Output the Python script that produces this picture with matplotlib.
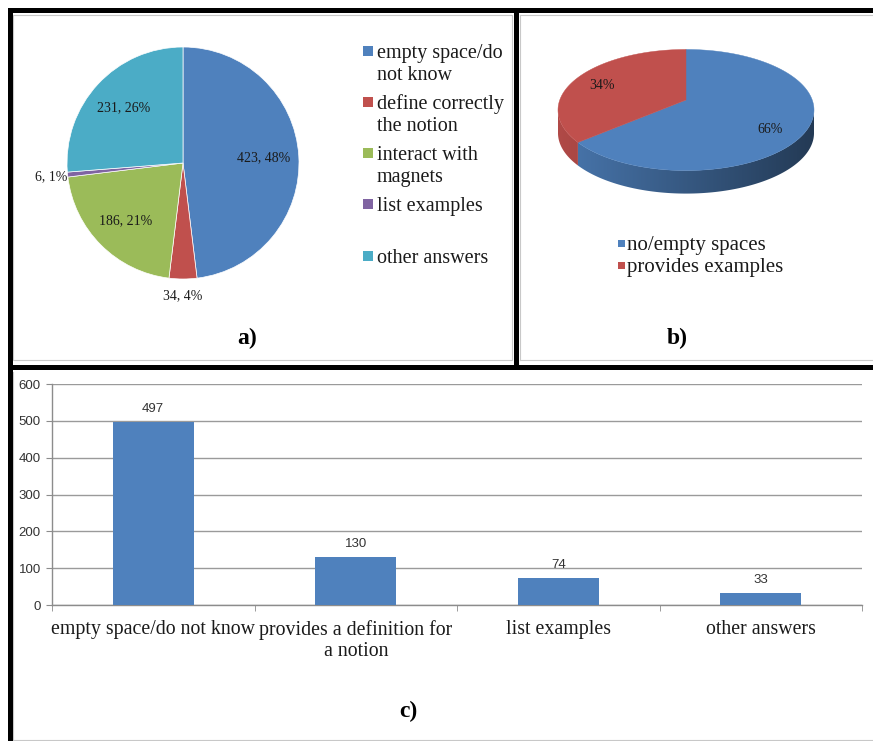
import numpy as np
import matplotlib
matplotlib.use("Agg")
import matplotlib.pyplot as plt
from matplotlib.patches import Polygon, Rectangle
from matplotlib.lines import Line2D
from matplotlib.colors import to_rgb

# ---------------- data ----------------
a_labels = ["empty space/do\nnot know", "define correctly\nthe notion",
            "interact with\nmagnets", "list examples", "other answers"]
a_counts = [423, 34, 186, 6, 231]
a_colors = ["#4F81BD", "#C0504D", "#9BBB59", "#8064A2", "#4BACC6"]

b_labels = ["no/empty spaces", "provides examples"]
b_shares = [66, 34]
b_colors = ["#4F81BD", "#C0504D"]

c_categories = ["empty space/do not know", "provides a definition for\na notion",
                "list examples", "other answers"]
c_counts = [497, 130, 74, 33]
c_ticks = [0, 100, 200, 300, 400, 500, 600]

panel_tags = ["a)", "b)", "c)"]

# ---------------- helpers ----------------
W, H = 873, 741
SERIF = "Liberation Serif"
SANS = "Liberation Sans"
TXT = "#1a1a1a"

fig = plt.figure(figsize=(W / 100, H / 100), dpi=100)
fig.patch.set_facecolor("white")


def fx(x):
    return x / W


def fy(y):
    return 1 - y / H


def px_axes(x0, y0, x1, y1):
    return fig.add_axes([fx(x0), fy(y1), (x1 - x0) / W, (y1 - y0) / H])


def fig_line(xs, ys, lw, color, cap="projecting"):
    fig.add_artist(Line2D([fx(v) for v in xs], [fy(v) for v in ys], lw=lw,
                          color=color, solid_capstyle=cap,
                          transform=fig.transFigure))


def legend_block(x_sq, x_txt, y_slots, labels, colors, sq, fs, line_gap):
    for y, lab, col in zip(y_slots, labels, colors):
        fig.add_artist(Rectangle((fx(x_sq), fy(y + sq / 2)), sq / W, sq / H,
                                 transform=fig.transFigure, facecolor=col,
                                 edgecolor="none"))
        for k, line in enumerate(lab.split("\n")):
            fig.text(fx(x_txt), fy(y + k * line_gap), line, ha="left",
                     va="center_baseline", fontsize=fs, family=SERIF, color=TXT)


# ---------------- panel a: pie ----------------
ax_a = px_axes(67, 47, 299, 279)
wedges, _ = ax_a.pie(a_counts, colors=a_colors, startangle=90,
                     counterclock=False, radius=1,
                     wedgeprops=dict(linewidth=0.5, edgecolor="white"))
ax_a.set_xlim(-1, 1)
ax_a.set_ylim(-1, 1)
total_a = sum(a_counts)
for w, v in zip(wedges, a_counts):
    share = v / total_a
    mid = np.deg2rad((w.theta1 + w.theta2) / 2)
    r = 0.70 if share > 0.1 else 1.14
    ax_a.text(r * np.cos(mid), r * np.sin(mid), f"{v}, {round(share * 100)}%",
              ha="center", va="center", fontsize=10, family=SERIF, color=TXT,
              clip_on=False)

legend_block(363, 377, [51, 102, 153, 204, 256], a_labels, a_colors,
             10, 14.5, 22)

# ---------------- panel b: 3-D pie ----------------
ax_b = px_axes(536, 30, 836, 215)
ax_b.axis("off")

tilt = 0.473    # minor / major axis of the top ellipse
depth = 0.18    # thickness of the disc
apex = (0.0, 0.078)  # slice vertex, lifted a little for perspective

spans = []
start = 90.0
for s in b_shares:
    end = start - s / sum(b_shares) * 360
    spans.append((end, start))
    start = end

# side wall (front half only), shaded darker towards the right
gx = np.linspace(-1, 1, 400)
shade = 0.92 - 0.47 * (gx + 1) / 2
for (lo, hi), col in zip(spans, b_colors):
    base = np.array(to_rgb(col))
    for shift in (0, -360, 360):
        s_lo, s_hi = max(lo + shift, -180), min(hi + shift, 0)
        if s_hi <= s_lo:
            continue
        ts = np.deg2rad(np.linspace(s_lo, s_hi, 200))
        top = [(np.cos(t), tilt * np.sin(t)) for t in ts]
        bot = [(np.cos(t), tilt * np.sin(t) - depth) for t in ts[::-1]]
        wall = Polygon(top + bot, closed=True, facecolor="none",
                       edgecolor="none")
        ax_b.add_patch(wall)
        grad = np.clip(shade[None, :, None] * base[None, None, :], 0, 1)
        im = ax_b.imshow(grad, extent=(-1, 1, -tilt - depth, 0),
                         aspect="auto", interpolation="bilinear", zorder=1)
        im.set_clip_path(wall)

# top face
for (lo, hi), col, s in zip(spans, b_colors, b_shares):
    ts = np.deg2rad(np.linspace(lo, hi, 200))
    pts = [apex] + [(np.cos(t), tilt * np.sin(t)) for t in ts]
    ax_b.add_patch(Polygon(pts, closed=True, facecolor=col, edgecolor=col,
                           lw=0.3, zorder=2))
    mid = np.deg2rad((lo + hi) / 2)
    r = 0.75
    lx = apex[0] + r * (np.cos(mid) - apex[0])
    ly = apex[1] + r * (tilt * np.sin(mid) - apex[1])
    ax_b.text(lx, ly, f"{s}%", ha="center", va="center", fontsize=10,
              family=SERIF, color=TXT, zorder=3)

ax_b.set_xlim(-150 / 128, 150 / 128)
ax_b.set_ylim(-105 / 128, 80 / 128)
ax_b.set_aspect("equal")

legend_block(618, 627, [243, 265], b_labels, b_colors, 7, 15, 22)

# ---------------- panel c: bars ----------------
ax_c = px_axes(52, 384, 862, 605)
x = np.arange(len(c_counts))
ax_c.bar(x, c_counts, width=0.4, color="#4F81BD", zorder=3)
for xi, v in zip(x, c_counts):
    ax_c.annotate(str(v), (xi, v), xytext=(0, 5), textcoords="offset points",
                  ha="center", va="bottom", fontsize=9.5, family=SANS,
                  color="#333333")
ax_c.set_xlim(-0.5, len(c_counts) - 0.5)
ax_c.set_ylim(c_ticks[0], c_ticks[-1])
ax_c.set_yticks(c_ticks)
ax_c.set_yticklabels([str(t) for t in c_ticks], fontsize=9.5, family=SANS,
                     color="#333333")
ax_c.set_xticks(x)
ax_c.set_xticklabels(c_categories, fontsize=14.3, family=SERIF, color=TXT,
                     linespacing=1.1)
ax_c.set_xticks(np.arange(-0.5, len(c_counts)), minor=True)
ax_c.tick_params(axis="x", which="major", length=0, pad=11)
ax_c.tick_params(axis="x", which="minor", length=4, color="#8c8c8c")
ax_c.tick_params(axis="y", length=4, color="#8c8c8c", pad=4)
ax_c.grid(axis="y", color="#9a9a9a", lw=1.0, zorder=0)
for side in ("top", "right"):
    ax_c.spines[side].set_visible(False)
for side in ("left", "bottom"):
    ax_c.spines[side].set_color("#8c8c8c")
    ax_c.spines[side].set_linewidth(1.0)

# ---------------- panel tags ----------------
for tag, (tx, ty) in zip(panel_tags, [(247, 338), (677, 338), (408, 711)]):
    fig.text(fx(tx), fy(ty), tag, ha="center", va="center", fontsize=17,
             fontweight="bold", family=SERIF, color="black")

# ---------------- frames ----------------
GRAY = "#c8c8c8"
fig_line([13, 512, 512, 13, 13], [15, 15, 360, 360, 15], 0.8, GRAY)
fig_line([520, 873], [15, 15], 0.8, GRAY)
fig_line([520, 520], [15, 360], 0.8, GRAY)
fig_line([520, 873], [360, 360], 0.8, GRAY)
fig_line([13, 873], [739.5, 739.5], 0.8, GRAY)
fig_line([13, 13], [372, 740], 0.8, GRAY)

BLK = 3.6
fig_line([9.5, 875], [10, 10], BLK, "black")
fig_line([9.5, 9.5], [10, 743], BLK, "black")
fig_line([515.5, 515.5], [10, 367], BLK, "black", cap="butt")
fig_line([9.5, 875], [367, 367], BLK, "black")

fig.savefig("out.png", dpi=100, facecolor="white")
